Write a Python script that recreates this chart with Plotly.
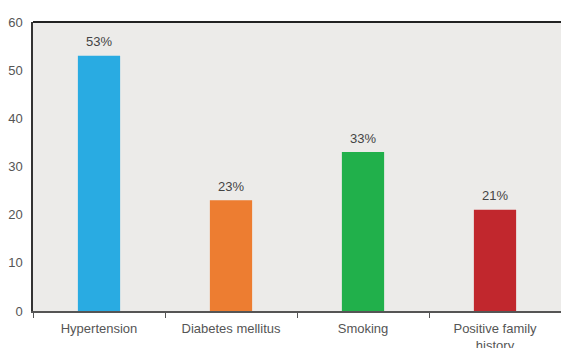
import plotly.graph_objects as go

categories = ["Hypertension", "Diabetes mellitus", "Smoking", "Positive family<br>history"]
values = [53, 23, 33, 21]
labels = ["53%", "23%", "33%", "21%"]
colors = ["#29ABE2", "#ED7D31", "#21B04B", "#C1272D"]
y_ticks = [0, 10, 20, 30, 40, 50, 60]

FONT = "Liberation Sans, Arial"

fig = go.Figure()
fig.add_trace(go.Bar(
    x=categories, y=values,
    marker=dict(color=colors, line=dict(width=0)),
    width=0.32,
))
for c, v, t in zip(categories, values, labels):
    fig.add_annotation(x=c, y=v, text=t, showarrow=False, yshift=14,
                       font=dict(family=FONT, size=13, color="#444444"))

fig.update_layout(
    width=561, height=348,
    margin=dict(l=33, r=0, t=22, b=37, autoexpand=False),
    paper_bgcolor="white", plot_bgcolor="#ECEBE9",
    showlegend=False,
    font=dict(family=FONT, size=13, color="#555555"),
)
fig.update_xaxes(
    showline=True, linecolor="#555555", linewidth=1.5,
    ticks="outside", tickson="boundaries", ticklen=5, tickcolor="#555555",
    showgrid=False, tickfont=dict(size=13, color="#555555"), ticklabelstandoff=5,
    automargin=False,
)
fig.update_yaxes(
    range=[0, 60], tickvals=y_ticks, showline=True, linecolor="#333333", linewidth=1.5,
    showgrid=False, zeroline=False, ticks="", ticklabelstandoff=6,
    tickfont=dict(size=13, color="#555555"), automargin=False,
)
fig.add_shape(type="line", xref="paper", yref="paper", x0=0, x1=1, y0=1, y1=1,
              line=dict(color="#222222", width=2))

fig.write_html("out.html")
